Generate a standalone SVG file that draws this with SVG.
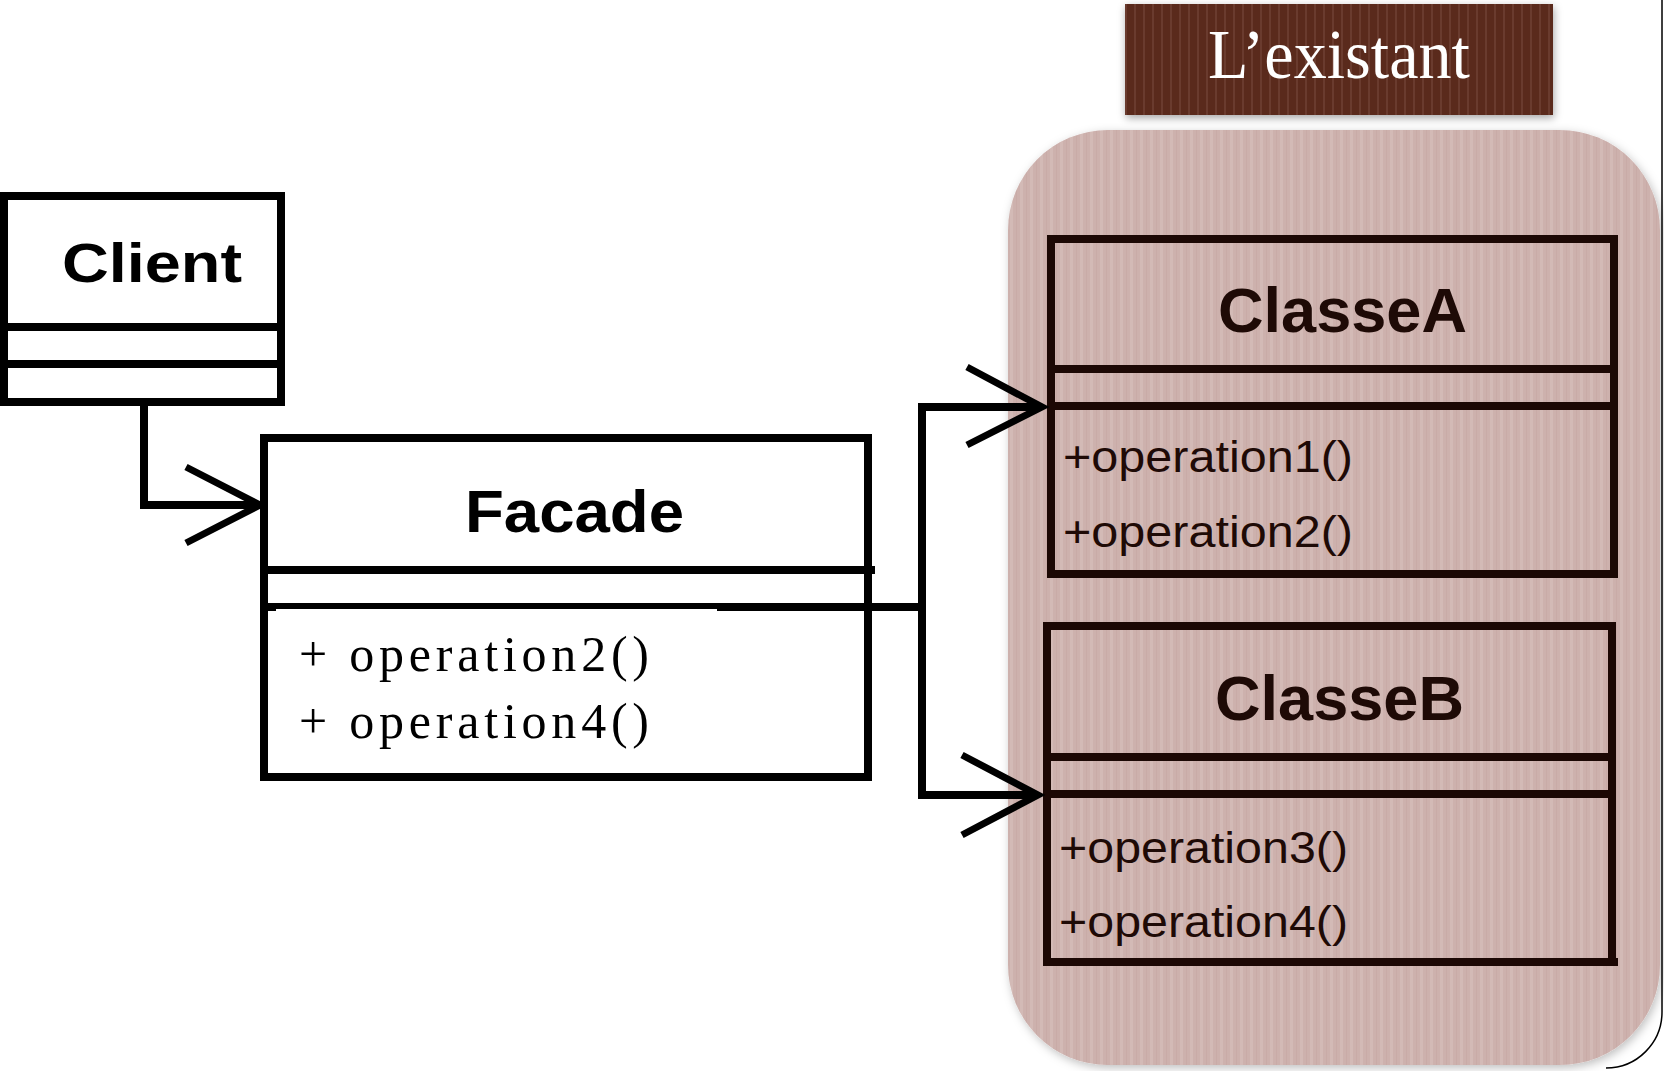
<svg xmlns="http://www.w3.org/2000/svg" width="1664" height="1071" viewBox="0 0 1664 1071">
<defs>
<pattern id="pinkStripes" x="0" y="0" width="10" height="20" patternUnits="userSpaceOnUse">
<rect width="10" height="20" fill="#cdb1ad"/>
<rect x="0" width="3" height="20" fill="#d3bab6"/>
<rect x="6" width="1" height="20" fill="#c9aba7"/>
</pattern>
<pattern id="brownStripes" x="0" y="0" width="9" height="20" patternUnits="userSpaceOnUse">
<rect width="9" height="20" fill="#5a2a1e"/>
<rect x="0" width="2" height="20" fill="#6a3a2d"/>
</pattern>
<filter id="shadow" x="-10%" y="-10%" width="120%" height="130%">
<feDropShadow dx="1" dy="3" stdDeviation="4" flood-color="#000" flood-opacity="0.35"/>
</filter>
<filter id="shadowSoft" x="-5%" y="-5%" width="110%" height="110%">
<feDropShadow dx="2" dy="3" stdDeviation="5" flood-color="#000" flood-opacity="0.25"/>
</filter>
</defs>
<style>
.boxW{fill:#fff;stroke:#000;stroke-width:8}
.boxD{fill:none;stroke:#1c0804;stroke-width:8}
.div{stroke:#000;stroke-width:8}
.divD{stroke:#1c0804;stroke-width:8}
.title{font-family:"Liberation Sans",Arial,sans-serif;font-weight:bold;fill:#000}
.titleD{font-family:"Liberation Sans",Arial,sans-serif;font-weight:bold;fill:#1e0a06}
.mono{font-family:"Liberation Serif","Times New Roman",serif;fill:#000}
.ops{font-family:"Liberation Sans",Arial,sans-serif;fill:#1e0a06}
.conn{fill:none;stroke:#000;stroke-width:8;stroke-linejoin:miter}
.head{fill:none;stroke:#000;stroke-width:7;stroke-linejoin:miter;stroke-linecap:butt}
</style>
<rect width="1664" height="1071" fill="#fff"/>

<path d="M1662,0 V1012 A56,56 0 0 1 1606,1068" fill="none" stroke="#000" stroke-width="1.5"/>

<g id="existant-container">
<rect x="1008" y="130" width="652" height="935" rx="100" ry="100" fill="url(#pinkStripes)" filter="url(#shadowSoft)"/>
</g>

<g id="existant-label">
<rect x="1125" y="4" width="428" height="111" fill="url(#brownStripes)" filter="url(#shadow)"/>
<text x="1208" y="78" font-family="'Liberation Serif','Times New Roman',serif" font-size="70" fill="#fff" textLength="262" lengthAdjust="spacingAndGlyphs">L’existant</text>
</g>

<g id="client">
<rect class="boxW" x="4" y="196" width="277" height="206"/>
<line class="div" x1="0" y1="327" x2="285" y2="327"/>
<line class="div" x1="0" y1="364" x2="285" y2="364"/>
<text class="title" x="62" y="282" font-size="56" textLength="180" lengthAdjust="spacingAndGlyphs">Client</text>
</g>

<g id="facade">
<rect class="boxW" x="264" y="438" width="604" height="339"/>
<line class="div" x1="260" y1="570" x2="875" y2="570"/>
<line class="div" x1="260" y1="607" x2="872" y2="607"/>
<rect x="276" y="609" width="441" height="3" fill="#fff"/>
<text class="title" x="465" y="532" font-size="60" textLength="219" lengthAdjust="spacingAndGlyphs">Facade</text>
<text class="mono" x="299" y="671" font-size="50" textLength="350" lengthAdjust="spacing">+ operation2()</text>
<text class="mono" x="299" y="738" font-size="50" textLength="350" lengthAdjust="spacing">+ operation4()</text>
</g>

<g id="classeA">
<rect class="boxD" x="1051" y="239" width="563" height="335"/>
<line class="divD" x1="1047" y1="369" x2="1618" y2="369"/>
<line class="divD" x1="1047" y1="406" x2="1618" y2="406"/>
<text class="titleD" x="1218" y="332" font-size="63" textLength="249" lengthAdjust="spacingAndGlyphs">ClasseA</text>
<text class="ops" x="1063" y="472" font-size="44" textLength="290" lengthAdjust="spacingAndGlyphs">+operation1()</text>
<text class="ops" x="1063" y="547" font-size="44" textLength="290" lengthAdjust="spacingAndGlyphs">+operation2()</text>
</g>

<g id="classeB">
<rect class="boxD" x="1047" y="626" width="565" height="336"/>
<line class="divD" x1="1043" y1="757" x2="1616" y2="757"/>
<line class="divD" x1="1043" y1="794" x2="1616" y2="794"/>
<line class="divD" x1="1043" y1="962" x2="1618" y2="962" stroke-width="9"/>
<text class="titleD" x="1215" y="720" font-size="63" textLength="249" lengthAdjust="spacingAndGlyphs">ClasseB</text>
<text class="ops" x="1059" y="863" font-size="44" textLength="289" lengthAdjust="spacingAndGlyphs">+operation3()</text>
<text class="ops" x="1059" y="937" font-size="44" textLength="289" lengthAdjust="spacingAndGlyphs">+operation4()</text>
</g>

<g id="connectors">
<path class="conn" d="M144,402 V505 H258"/>
<path class="head" d="M186,467 L260,505 L186,543"/>
<path class="conn" d="M868,607 H922 V407 H1040"/>
<path class="head" d="M967,367 L1042,407 L967,445"/>
<path class="conn" d="M922,607 V795 H1036"/>
<path class="head" d="M962,755 L1038,795 L962,835"/>
</g>
</svg>
